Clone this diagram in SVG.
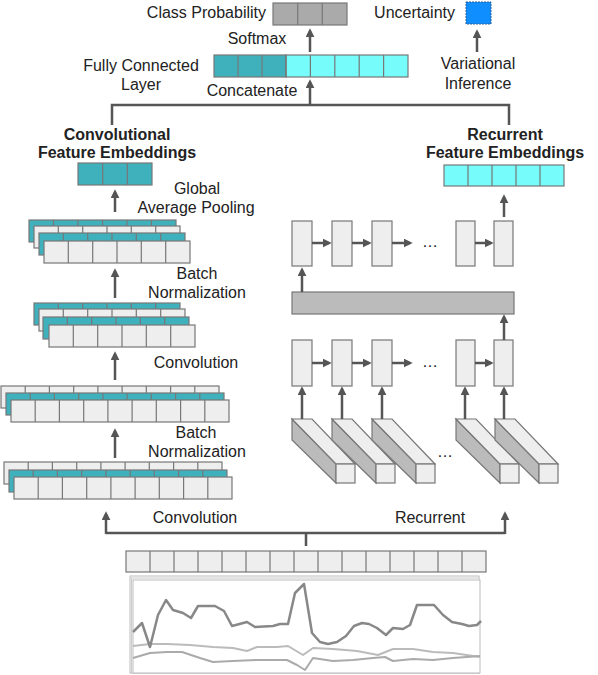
<svg xmlns="http://www.w3.org/2000/svg" width="598" height="675" viewBox="0 0 598 675">
<style>
text{font-family:"Liberation Sans",Arial,sans-serif;font-size:16px;fill:#222}
.b{font-weight:bold}
.m{text-anchor:middle}
.e{text-anchor:end}
.c{stroke:#777;stroke-width:1.2}
.g{fill:#eeeeee}
.t{fill:#3fb1bd}
.y{fill:#77fcfc}
.d{fill:#aaaaaa}
.s{fill:#bbbbbb}
.a{fill:none;stroke:#555;stroke-width:2.5}
.ar{fill:none;stroke:#555;stroke-width:2.5;marker-end:url(#ah)}
.ln{fill:none;stroke-linejoin:round}
</style>
<defs>
<marker id="ah" viewBox="0 0 10 10" refX="7" refY="5" markerWidth="9" markerHeight="9" markerUnits="userSpaceOnUse" orient="auto">
<path d="M0,0 L10,5 L0,10 z" fill="#555"/>
</marker>
</defs>

<!-- Output nodes -->
<g id="class-prob">
<rect class="d c" x="273" y="3" width="74" height="22"/>
<path class="c" d="M297.7,3V25M322.3,3V25"/>
<text class="e" x="266" y="18">Class Probability</text>
</g>
<g id="uncertainty">
<rect x="466" y="2" width="25" height="22" fill="#0f8fff" stroke="#2a5f9a" stroke-width="1" stroke-dasharray="2,1"/>
<text class="e" x="455" y="18">Uncertainty</text>
</g>
<g id="fc-layer">
<rect class="t c" x="214" y="55" width="72" height="22"/>
<rect class="y c" x="286" y="55" width="122" height="22"/>
<path class="c" d="M238,55V77M262,55V77M286,55V77M310.4,55V77M334.8,55V77M359.2,55V77M383.6,55V77"/>
<text class="m" x="141" y="71">Fully Connected</text>
<text class="m" x="141" y="90">Layer</text>
</g>
<g id="labels-top">
<text class="m" x="257" y="44">Softmax</text>
<text class="m" x="252" y="96">Concatenate</text>
<text class="m" x="478" y="69">Variational</text>
<text class="m" x="478" y="89">Inference</text>
</g>

<!-- Convolutional branch -->
<g id="conv-embed">
<text class="m b" x="117" y="140">Convolutional</text>
<text class="m b" x="117" y="158">Feature Embeddings</text>
<rect class="t c" x="78" y="163" width="74" height="22"/>
<path class="c" d="M102.7,163V185M127.3,163V185"/>
</g>
<g id="gap-label">
<text class="m" x="197" y="194">Global</text>
<text class="m" x="196" y="213">Average Pooling</text>
</g>
<g id="stack1">
<rect class="t c" x="29" y="220" width="147" height="22"/>
<path class="c" d="M53.5,220V242M78,220V242M102.5,220V242M127,220V242M151.5,220V242"/>
<rect class="g c" x="34" y="226" width="146" height="22"/>
<path class="c" d="M58.3,226V248M82.7,226V248M107,226V248M131.3,226V248M155.7,226V248"/>
<rect class="t c" x="39" y="233" width="146" height="22"/>
<path class="c" d="M63.3,233V255M87.7,233V255M112,233V255M136.3,233V255M160.7,233V255"/>
<rect class="g c" x="44" y="241" width="146" height="22"/>
<path class="c" d="M68.3,241V263M92.7,241V263M117,241V263M141.3,241V263M165.7,241V263"/>
</g>
<g id="bn1-label">
<text class="m" x="197" y="279">Batch</text>
<text class="m" x="197" y="298">Normalization</text>
</g>
<g id="stack2">
<rect class="t c" x="34" y="303" width="146" height="22"/>
<path class="c" d="M58.3,303V325M82.7,303V325M107,303V325M131.3,303V325M155.7,303V325"/>
<rect class="g c" x="39" y="309" width="146" height="22"/>
<path class="c" d="M63.3,309V331M87.7,309V331M112,309V331M136.3,309V331M160.7,309V331"/>
<rect class="t c" x="43" y="317" width="146" height="22"/>
<path class="c" d="M67.3,317V339M91.7,317V339M116,317V339M140.3,317V339M164.7,317V339"/>
<rect class="g c" x="49" y="325" width="146" height="22"/>
<path class="c" d="M73.3,325V347M97.7,325V347M122,325V347M146.3,325V347M170.7,325V347"/>
</g>
<g id="conv1-label">
<text class="m" x="196" y="368">Convolution</text>
</g>
<g id="stack3">
<rect class="g c" x="1" y="386" width="218" height="22"/>
<path class="c" d="M25.2,386V408M49.4,386V408M73.7,386V408M97.9,386V408M122.1,386V408M146.3,386V408M170.6,386V408M194.8,386V408"/>
<rect class="t c" x="6" y="393" width="218" height="22"/>
<path class="c" d="M30.2,393V415M54.4,393V415M78.7,393V415M102.9,393V415M127.1,393V415M151.3,393V415M175.6,393V415M199.8,393V415"/>
<rect class="g c" x="11" y="400" width="218" height="22"/>
<path class="c" d="M35.2,400V422M59.4,400V422M83.7,400V422M107.9,400V422M132.1,400V422M156.3,400V422M180.6,400V422M204.8,400V422"/>
</g>
<g id="bn2-label">
<text class="m" x="196" y="438">Batch</text>
<text class="m" x="197" y="457">Normalization</text>
</g>
<g id="stack4">
<rect class="g c" x="4" y="462" width="218" height="22"/>
<path class="c" d="M28.2,462V484M52.4,462V484M76.7,462V484M100.9,462V484M125.1,462V484M149.3,462V484M173.6,462V484M197.8,462V484"/>
<rect class="t c" x="9" y="470" width="218" height="22"/>
<path class="c" d="M33.2,470V492M57.4,470V492M81.7,470V492M105.9,470V492M130.1,470V492M154.3,470V492M178.6,470V492M202.8,470V492"/>
<rect class="g c" x="14" y="477" width="218" height="22"/>
<path class="c" d="M38.2,477V499M62.4,477V499M86.7,477V499M110.9,477V499M135.1,477V499M159.3,477V499M183.6,477V499M207.8,477V499"/>
</g>

<!-- Recurrent branch -->
<g id="rec-embed">
<text class="m b" x="505" y="140">Recurrent</text>
<text class="m b" x="505" y="158">Feature Embeddings</text>
<rect class="y c" x="444" y="165" width="120" height="21"/>
<path class="c" d="M468,165V186M492,165V186M516,165V186M540,165V186"/>
</g>
<g id="rnn2">
<rect class="g c" x="292" y="221" width="20" height="45"/>
<rect class="g c" x="332" y="221" width="20" height="45"/>
<rect class="g c" x="372" y="221" width="20" height="45"/>
<rect class="g c" x="456" y="221" width="19" height="45"/>
<rect class="g c" x="494" y="221" width="19" height="45"/>
<text class="m" x="430" y="247" fill="#555">…</text>
</g>
<g id="bar">
<rect class="s c" x="292" y="292" width="222" height="22"/>
</g>
<g id="rnn1">
<rect class="g c" x="292" y="340" width="20" height="46"/>
<rect class="g c" x="332" y="340" width="20" height="46"/>
<rect class="g c" x="372" y="340" width="20" height="46"/>
<rect class="g c" x="456" y="340" width="19" height="46"/>
<rect class="g c" x="494" y="340" width="19" height="46"/>
<text class="m" x="430" y="367" fill="#555">…</text>
</g>
<g id="slabs">
<g id="slab1">
<path class="s c" d="M292,419L336,464V483L292,440Z"/>
<path class="g c" d="M292,419H312L355,464H336Z"/>
<rect class="g c" x="336" y="464" width="19" height="19"/>
</g>
<g id="slab2">
<path class="s c" d="M332,419L376,464V483L332,440Z"/>
<path class="g c" d="M332,419H352L395,464H376Z"/>
<rect class="g c" x="376" y="464" width="19" height="19"/>
</g>
<g id="slab3">
<path class="s c" d="M372,419L416,464V483L372,440Z"/>
<path class="g c" d="M372,419H392L435,464H416Z"/>
<rect class="g c" x="416" y="464" width="19" height="19"/>
</g>
<g id="slab4">
<path class="s c" d="M456,419L500,464V483L456,440Z"/>
<path class="g c" d="M456,419H476L519,464H500Z"/>
<rect class="g c" x="500" y="464" width="19" height="19"/>
</g>
<g id="slab5">
<path class="s c" d="M495,419L539,464V483L495,440Z"/>
<path class="g c" d="M495,419H515L558,464H539Z"/>
<rect class="g c" x="539" y="464" width="19" height="19"/>
</g>
<text class="m" x="445" y="457" fill="#555">…</text>
</g>

<!-- Input -->
<g id="bottom-labels">
<text class="m" x="195" y="523">Convolution</text>
<text class="m" x="430" y="523">Recurrent</text>
</g>
<g id="sequence">
<rect class="g c" x="126" y="551" width="360" height="21"/>
<path class="c" d="M150,551V572M174,551V572M198,551V572M222,551V572M246,551V572M270,551V572M294,551V572M318,551V572M342,551V572M366,551V572M390,551V572M414,551V572M438,551V572M462,551V572"/>
</g>
<g id="chart">
<rect x="130" y="576" width="349" height="97" fill="#fff" stroke="#bbb" stroke-width="1"/>
<rect x="131.5" y="578" width="348" height="95" fill="#fff" stroke="#ccc" stroke-width="1"/>
<rect x="133" y="580" width="347" height="93" fill="#fff" stroke="#bbb" stroke-width="1"/>
<polyline class="ln" stroke="#bbb" stroke-width="2" points="133,646 150,644 167,644 190,645 213,647 233,648 247,651 257,647 277,647 288,646 303,655 313,648 333,649 357,651 378,655 393,649 413,649 433,652 453,653 480,657"/>
<polyline class="ln" stroke="#aaa" stroke-width="2" points="133,658 150,653 167,652 182,652 200,658 213,662 233,661 257,660 287,660 297,665 305,670 313,658 333,661 353,660 373,658 385,657 393,661 413,659 433,660 453,658 480,656"/>
<polyline class="ln" stroke="#888" stroke-width="2.5" points="133,632 142,623 150,647 158,615 166,600 173,610 183,613 191,618 198,606 207,606 215,606 224,611 232,626 247,622 255,627 273,626 280,624 288,624 295,593 304,584 312,633 320,642 328,644 337,642 346,636 354,626 362,623 369,624 377,628 386,635 393,628 403,629 410,625 417,605 427,605 434,605 443,615 452,622 462,624 469,626 477,625 481,621"/>
</g>

<!-- Connectors -->
<g id="connectors">
<path class="a" d="M112,125V105H509V125"/>
<line class="ar" x1="310" y1="105" x2="310" y2="82"/>
<line class="ar" x1="310" y1="52" x2="310" y2="31"/>
<line class="ar" x1="477" y1="52" x2="477" y2="32"/>
<line class="ar" x1="115" y1="212" x2="115" y2="192"/>
<line class="ar" x1="115" y1="298" x2="115" y2="271"/>
<line class="ar" x1="115" y1="380" x2="115" y2="354"/>
<line class="ar" x1="115" y1="458" x2="115" y2="431"/>
<path class="a" d="M106,533H505M306,533V546"/>
<line class="ar" x1="106" y1="534" x2="106" y2="514"/>
<line class="ar" x1="505" y1="534" x2="505" y2="514"/>
<line class="ar" x1="504" y1="217" x2="504" y2="197"/>
<line class="ar" x1="302" y1="292" x2="302" y2="270"/>
<line class="ar" x1="504" y1="340" x2="504" y2="317"/>
<line class="ar" x1="312" y1="243" x2="329" y2="243"/>
<line class="ar" x1="352" y1="243" x2="369" y2="243"/>
<line class="ar" x1="392" y1="243" x2="410" y2="243"/>
<line class="ar" x1="475" y1="243" x2="491" y2="243"/>
<line class="ar" x1="312" y1="363" x2="329" y2="363"/>
<line class="ar" x1="352" y1="363" x2="369" y2="363"/>
<line class="ar" x1="392" y1="363" x2="410" y2="363"/>
<line class="ar" x1="475" y1="363" x2="491" y2="363"/>
<line class="ar" x1="302" y1="419" x2="302" y2="389"/>
<line class="ar" x1="342" y1="419" x2="342" y2="389"/>
<line class="ar" x1="382" y1="419" x2="382" y2="389"/>
<line class="ar" x1="465" y1="419" x2="465" y2="389"/>
<line class="ar" x1="504" y1="419" x2="504" y2="389"/>
</g>
</svg>
